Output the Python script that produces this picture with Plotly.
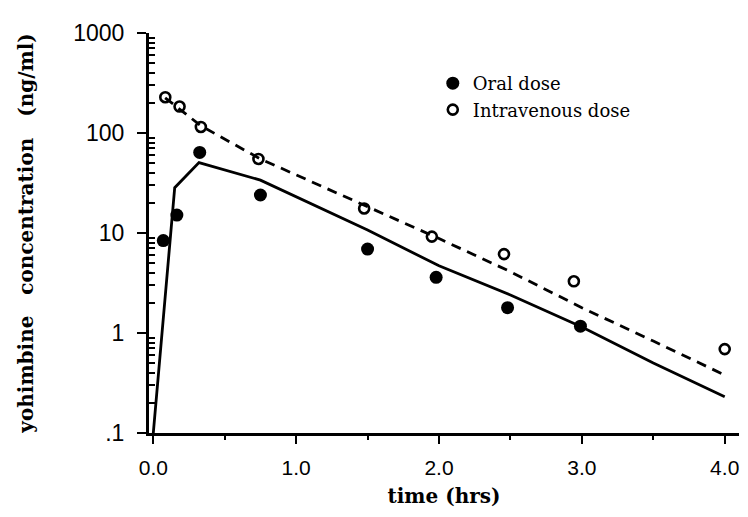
import plotly.graph_objects as go

# measured samples (time in hrs, concentration in ng/ml)
oral_t = [0.07, 0.165, 0.325, 0.75, 1.5, 1.98, 2.48, 2.99]
oral_c = [8.4, 15.1, 64, 24, 6.9, 3.6, 1.79, 1.17]

iv_t = [0.084, 0.184, 0.333, 0.736, 1.476, 1.95, 2.455, 2.944, 4.0]
iv_c = [228, 184, 115, 55, 17.6, 9.2, 6.15, 3.29, 0.69]

# fitted curves
oral_fit_t = [0, 0.15, 0.32, 0.75, 1.5, 2.0, 2.5, 3.0, 3.5, 4.0]
oral_fit_c = [0.1, 28.4, 50.6, 33.8, 10.7, 4.7, 2.4, 1.15, 0.5, 0.23]

iv_fit_t = [0.083, 0.167, 0.333, 0.75, 1.5, 2.0, 2.5, 3.0, 3.5, 4.0]
iv_fit_c = [225, 180, 118, 55, 18.3, 8.8, 4.1, 1.79, 0.83, 0.38]

x_tickvals = [0, 1, 2, 3, 4]
x_ticktext = ["0.0", "1.0", "2.0", "3.0", "4.0"]
y_tickvals = [0.1, 1, 10, 100, 1000]
y_ticktext = [".1", "1", "10", "100", "1000"]

SERIF = "DejaVu Serif, Liberation Serif, serif"
SANS = "Liberation Sans, Arial, sans-serif"

y_minor = [m * 10 ** e for e in range(-1, 3) for m in range(2, 10)]

fig = go.Figure()
fig.add_trace(go.Scatter(x=oral_fit_t, y=oral_fit_c, mode="lines",
                         line=dict(color="black", width=2.8), showlegend=False))
fig.add_trace(go.Scatter(x=iv_fit_t, y=iv_fit_c, mode="lines",
                         line=dict(color="black", width=2.8, dash="10px,7px"), showlegend=False))
fig.add_trace(go.Scatter(x=oral_t, y=oral_c, mode="markers", name="Oral dose",
                         marker=dict(symbol="circle", size=13, color="black")))
fig.add_trace(go.Scatter(x=iv_t, y=iv_c, mode="markers", name="Intravenous dose",
                         marker=dict(symbol="circle-open", size=10, color="black",
                                     line=dict(width=2.6, color="black"))))

# page body has an 8px margin, so the figure is a bit smaller than the window
fig.update_layout(
    width=740, height=509,
    margin=dict(l=141, r=9, t=25, b=84),
    plot_bgcolor="white", paper_bgcolor="white",
    legend=dict(x=0.481, y=0.92, xanchor="left", yanchor="top",
                font=dict(family=SERIF, size=18, color="black"),
                bgcolor="rgba(0,0,0,0)", itemwidth=30, tracegroupgap=0),
)
fig.update_xaxes(
    range=[-0.03, 4.1], showgrid=False, zeroline=False,
    showline=True, linewidth=3, linecolor="black",
    ticks="outside", ticklen=8, tickwidth=2, tickcolor="black",
    tickvals=x_tickvals, ticktext=x_ticktext, ticklabelstandoff=6,
    tickfont=dict(family=SANS, size=21, color="black"),
    minor=dict(tickvals=[0.5, 1.5, 2.5, 3.5], ticks="outside", ticklen=4,
               tickwidth=2, tickcolor="black", showgrid=False),
    title=dict(text="time (hrs)", standoff=11,
               font=dict(family=SERIF, size=20, color="black", weight="bold")),
)
fig.update_yaxes(
    type="log", range=[-1, 3], showgrid=False, zeroline=False,
    showline=True, linewidth=3, linecolor="black",
    ticks="outside", ticklen=9, tickwidth=2, tickcolor="black",
    tickvals=y_tickvals, ticktext=y_ticktext, ticklabelstandoff=8,
    tickfont=dict(family=SANS, size=23, color="black"),
    minor=dict(tickvals=y_minor, ticks="inside", ticklen=6,
               tickwidth=2, tickcolor="black", showgrid=False),
    title=dict(text="yohimbine\u00a0\u00a0\u00a0concentration\u00a0\u00a0\u00a0(ng/ml)",
               standoff=35,
               font=dict(family=SERIF, size=20, color="black", weight="bold")),
)

fig.write_html("out.html")
